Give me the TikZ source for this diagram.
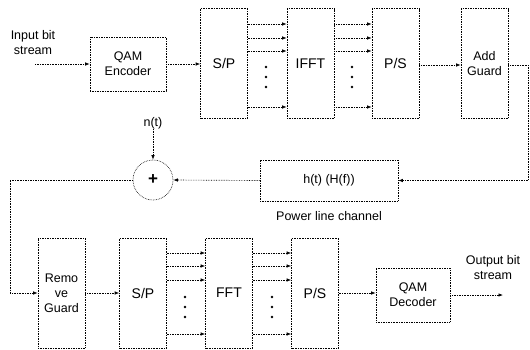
\documentclass[tikz,border=0pt]{standalone}
\usepackage{fontspec}
\setmainfont{Liberation Sans}
\usetikzlibrary{arrows.meta}
\begin{document}
\begin{tikzpicture}[x=1pt,y=-1pt,
  ln/.style={densely dotted, line width=0.65pt},
  arr/.style={ln, -{Latex[length=4.5pt,width=3.5pt]}},
  blk/.style={draw, ln, inner sep=1pt, align=center, font=\fontsize{12.5}{15}\selectfont},
  big/.style={font=\fontsize{14}{15}\selectfont},
  tall/.style={blk, minimum width=47pt, minimum height=110pt},
  dot/.style={circle, fill, inner sep=0pt, minimum size=2.8pt},
  lbl/.style={align=center, font=\fontsize{12.5}{15}\selectfont, inner sep=0pt}]
\useasboundingbox (0,0) rectangle (530,349);
% top row
\node[lbl] (in) at (33,43) {Input bit\\stream};
\coordinate (inS) at (35,64);
\node[blk, minimum width=76pt, minimum height=54pt] (enc) at (128,64) {QAM\\Encoder};
\node[tall, big] (sp1) at (224,63) {S/P};
\node[tall, big] (ifft) at (310.5,63.5) {IFFT};
\node[tall, big] (ps1) at (395.5,63.5) {P/S};
\node[tall] (ag) at (484.5,63.5) {Add\\Guard};
\draw[arr] (inS) -- (enc.west |- inS);
\draw[arr] (enc.east) -- (sp1.west |- enc.east);
\foreach \yy in {24,38,51,107}{
  \draw[arr] (sp1.east |- 0,\yy) -- (ifft.west |- 0,\yy);
  \draw[arr] (ifft.east |- 0,\yy) -- (ps1.west |- 0,\yy);
}
\foreach \yy in {67,77,87}{
  \node[dot] at (266,\yy) {};
  \node[dot] at (352,\yy) {};
}
\draw[arr] (ps1.east |- 0,65) -- (ag.west |- 0,65);
% channel row
\node[draw, ln, circle, minimum size=40pt, inner sep=0pt, font=\fontsize{17}{17}\selectfont\bfseries] (plus) at (153,180) {+};
\node[lbl] (nt) at (153,123) {n(t)};
\node[blk, minimum width=138pt, minimum height=41pt] (ch) at (329,180.5) {h(t) (H(f))};
\node[lbl] (plc) at (329,216) {Power line channel};
\coordinate (t1) at (528,65);
\coordinate (t2) at (528,180.5);
\draw[arr] (ag.east |- t1) -- (t1) -- (t2) -- (ch.east);
\draw[arr] (ch.west) -- (plus.east);
\draw[arr] (nt.south) -- (plus.north);
\coordinate (t3) at (10,180);
\coordinate (t4) at (10,293);
% bottom row
\node[tall] (rg) at (61.5,293) {Remo\\ve\\Guard};
\node[tall, big] (sp2) at (143,293) {S/P};
\node[tall, big] (fft) at (229,293) {FFT};
\node[tall, big] (ps2) at (315,293) {P/S};
\node[blk, minimum width=74pt, minimum height=54pt] (dec) at (413,295) {QAM\\Decoder};
\draw[arr] (plus.west) -- (t3) -- (t4) -- (rg.west);
\draw[arr] (rg.east) -- (sp2.west);
\foreach \yy in {253,266,280,334}{
  \draw[arr] (sp2.east |- 0,\yy) -- (fft.west |- 0,\yy);
  \draw[arr] (fft.east |- 0,\yy) -- (ps2.west |- 0,\yy);
}
\foreach \yy in {297,307,317}{
  \node[dot] at (185,\yy) {};
  \node[dot] at (272,\yy) {};
}
\draw[arr] (ps2.east) -- (dec.west |- ps2.east);
\coordinate (outE) at (503,295);
\draw[arr] (dec.east) -- (outE);
\node[lbl] (out) at (493,268) {Output bit\\stream};
\end{tikzpicture}
\end{document}
